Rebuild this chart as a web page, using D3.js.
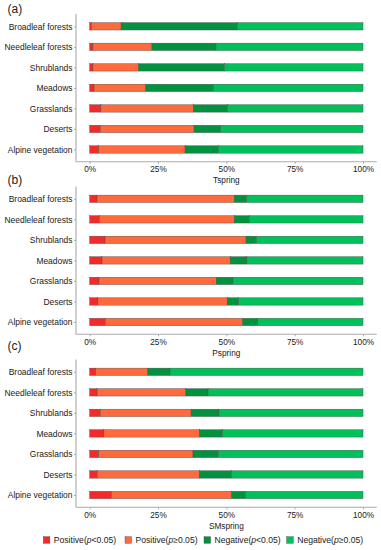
<!DOCTYPE html>
<html>
<head>
<meta charset="utf-8">
<script src="https://cdn.jsdelivr.net/npm/d3@7"></script>
<style>
  html, body { margin: 0; padding: 0; background: #fff; }
  svg { display: block; font-family: "Liberation Sans", Arial, sans-serif; }
</style>
</head>
<body>
<svg id="chart" width="381" height="550"></svg>
<script>
// ---- data ----
const categories = ["Broadleaf forests", "Needleleaf forests", "Shrublands", "Meadows", "Grasslands", "Deserts", "Alpine vegetation"];
const seriesNames = ["Positive(p<0.05)", "Positive(p≥0.05)", "Negative(p<0.05)", "Negative(p≥0.05)"];
const panelLabels = ["(a)", "(b)", "(c)"];
const panelTitles = ["Tspring", "Pspring", "SMspring"];
const xTickValues = [0, 25, 50, 75, 100];
const xTickLabels = ["0%", "25%", "50%", "75%", "100%"];

// percentages per category: [Pos p<0.05, Pos p>=0.05, Neg p<0.05, Neg p>=0.05]
const tspring = [
  [0.6, 10.9, 42.6, 45.9],
  [1.2, 21.6, 23.4, 53.8],
  [1.2, 16.7, 31.4, 50.7],
  [1.6, 18.9, 24.8, 54.7],
  [4.1, 33.8, 12.5, 49.6],
  [3.9, 34.3, 9.7, 52.1],
  [3.3, 31.6, 12.2, 52.9]
];
const pspring = [
  [2.7, 50.2, 4.5, 42.6],
  [3.5, 49.4, 5.5, 41.6],
  [5.6, 51.6, 3.8, 39.0],
  [4.5, 46.9, 6.1, 42.5],
  [3.4, 42.9, 6.1, 47.6],
  [3.0, 47.3, 4.1, 45.6],
  [5.7, 50.3, 5.5, 38.5]
];
const smspring = [
  [2.2, 19.1, 8.1, 70.6],
  [2.7, 32.5, 8.1, 56.7],
  [3.9, 33.2, 10.2, 52.7],
  [5.2, 34.9, 8.5, 51.4],
  [3.3, 34.5, 9.3, 52.9],
  [2.8, 37.3, 11.8, 48.1],
  [7.9, 44.1, 5.0, 43.0]
];
const panelData = [tspring, pspring, smspring];

const colors = ["#F42A2A", "#FF6A3C", "#00923F", "#00C05A"];

// ---- helpers ----
function condense(sel, ratio) {
  sel.each(function () {
    const len = this.getComputedTextLength();
    d3.select(this).attr("textLength", len * ratio).attr("lengthAdjust", "spacingAndGlyphs");
  });
}

// ---- layout ----
const svg = d3.select("#chart");
const xLeft = 76, xRight = 376.7;
const panelTops = [14, 186.5, 359.5];
const panelHeight = 147.8;
const panelLabelY = [8.5, 179.5, 346];
const barH = 7.4;

const x = d3.scaleLinear().domain([-5, 105]).range([xLeft, xRight]);

panelData.forEach((rows, pi) => {
  const top = panelTops[pi], bottom = top + panelHeight;
  const y = d3.scalePoint().domain(categories).range([top, bottom]).padding(0.6);
  const g = svg.append("g");

  // stacked bars
  categories.forEach((cat, ci) => {
    let cum = 0;
    rows[ci].forEach((v, si) => {
      g.append("rect")
        .attr("x", x(cum))
        .attr("y", y(cat) - barH / 2)
        .attr("width", x(cum + v) - x(cum))
        .attr("height", barH)
        .attr("fill", colors[si])
        .attr("stroke", "#4a4a4a")
        .attr("stroke-width", 0.4);
      cum += v;
    });
  });

  // y axis
  const yAxis = d3.axisLeft(y).tickSize(2).tickPadding(1.5);
  const ya = g.append("g").attr("transform", `translate(${xLeft},0)`).call(yAxis);
  ya.select(".domain").attr("stroke", "#aaaaaa").attr("stroke-width", 1.1)
    .attr("d", `M0,${top}V${bottom}`);
  ya.selectAll(".tick line").attr("stroke", "#aaaaaa");
  ya.selectAll(".tick text").attr("fill", "#1a1a1a").style("font-size", "9.4px")
    .attr("font-family", "Liberation Sans, Arial, sans-serif");
  condense(ya.selectAll(".tick text"), 0.9);

  // x axis
  const xAxis = d3.axisBottom(x).tickValues(xTickValues)
    .tickFormat((d, i) => xTickLabels[i]).tickSize(2).tickPadding(2);
  const xa = g.append("g").attr("transform", `translate(0,${bottom})`).call(xAxis);
  xa.select(".domain").attr("stroke", "#aaaaaa").attr("stroke-width", 1.1)
    .attr("d", `M${xLeft},0H${xRight}`);
  xa.selectAll(".tick line").attr("stroke", "#aaaaaa");
  xa.selectAll(".tick text").attr("fill", "#1a1a1a").style("font-size", "9.4px")
    .attr("font-family", "Liberation Sans, Arial, sans-serif");
  condense(xa.selectAll(".tick text"), 0.88);

  // axis title
  const title = g.append("text")
    .attr("x", x(50)).attr("y", bottom + 18).attr("dy", "0.35em")
    .attr("text-anchor", "middle").attr("fill", "#1a1a1a")
    .style("font-size", "9.6px").text(panelTitles[pi]);
  condense(title, 0.86);

  // panel label
  g.append("text")
    .attr("x", 7.5).attr("y", panelLabelY[pi]).attr("dy", "0.35em")
    .attr("fill", "#1a1a1a").style("font-size", "12px").text(panelLabels[pi]);
});

// ---- legend ----
const legendX = [43.3, 125, 204, 286.7];
const legendY = 540;
const leg = svg.append("g");
seriesNames.forEach((name, i) => {
  leg.append("rect")
    .attr("x", legendX[i]).attr("y", legendY - 3.3)
    .attr("width", 6.6).attr("height", 6.6)
    .attr("fill", colors[i]).attr("stroke", "#4a4a4a").attr("stroke-width", 0.4);
  const m = name.match(/^(.*\()p(.*)$/);
  const t = leg.append("text")
    .attr("x", legendX[i] + 10.5).attr("y", legendY).attr("dy", "0.35em")
    .attr("fill", "#1a1a1a").style("font-size", "8.6px");
  t.append("tspan").text(m[1]);
  t.append("tspan").attr("font-style", "italic").text("p");
  t.append("tspan").text(m[2]);
});
</script>
</body>
</html>
